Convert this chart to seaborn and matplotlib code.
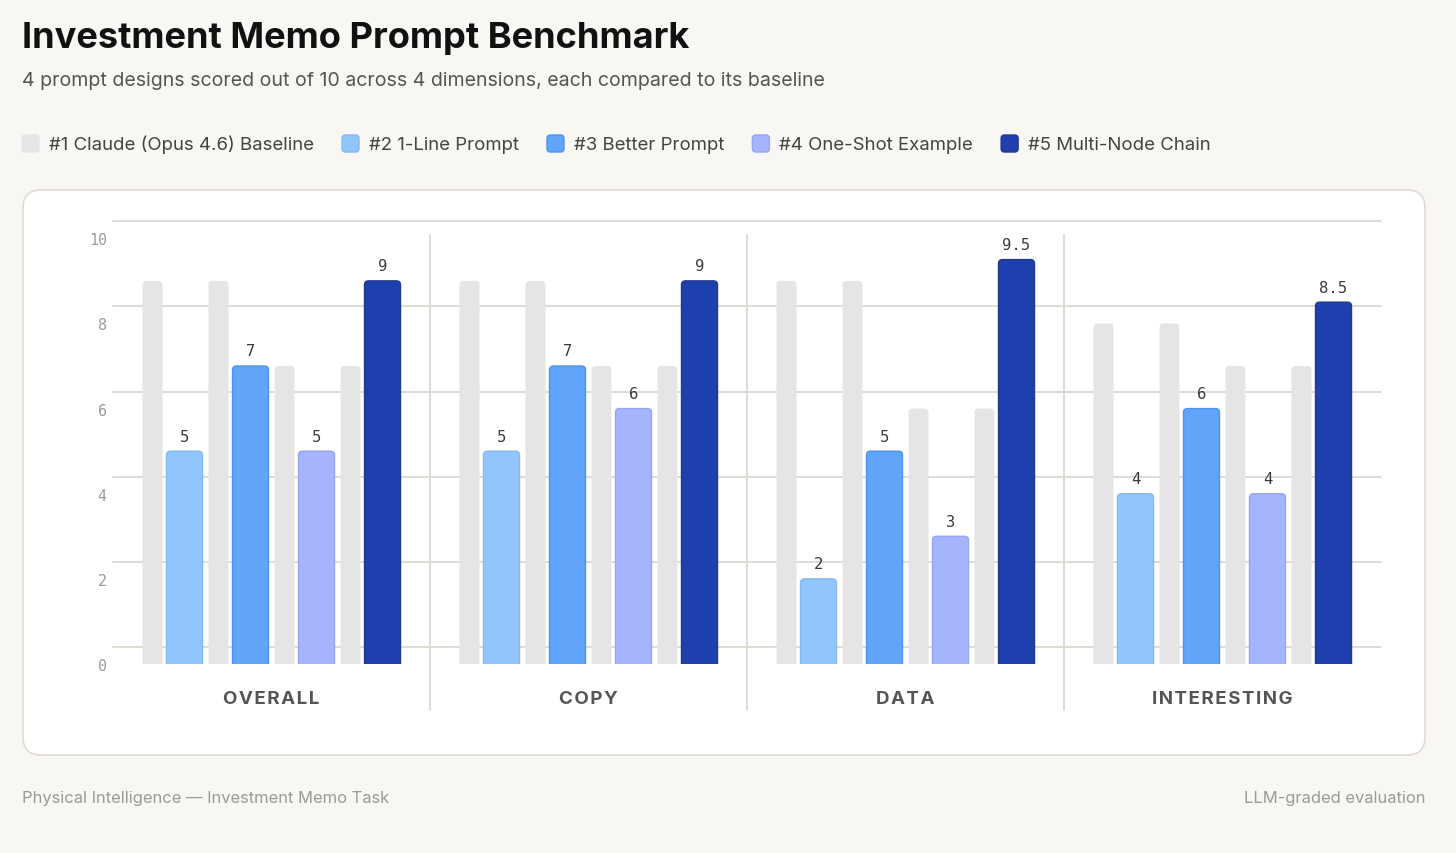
import pandas as pd
import matplotlib.pyplot as plt
import seaborn as sns
from matplotlib.patches import FancyBboxPatch
from matplotlib.transforms import ScaledTranslation

# --- data ---
dimensions = ["OVERALL", "COPY", "DATA", "INTERESTING"]
baseline_name = "#1 Claude (Opus 4.6) Baseline"
designs = ["#2 1-Line Prompt", "#3 Better Prompt", "#4 One-Shot Example", "#5 Multi-Node Chain"]

one_line_scores = [5, 5, 2, 4]
better_scores = [7, 7, 5, 6]
one_shot_scores = [5, 6, 3, 4]
multi_node_scores = [9, 9, 9.5, 8.5]

# baseline bar shown next to each design
one_line_baseline = [9, 9, 9, 8]
better_baseline = [9, 9, 9, 8]
one_shot_baseline = [7, 7, 6, 7]
multi_node_baseline = [7, 7, 6, 7]

y_ticks = [0, 2, 4, 6, 8, 10]

title = "Investment Memo Prompt Benchmark"
subtitle = "4 prompt designs scored out of 10 across 4 dimensions, each compared to its baseline"
footer_left = "Physical Intelligence \u2014 Investment Memo Task"
footer_right = "LLM-graded evaluation"

# --- styles ---
bg_color = "#F8F7F4"
baseline_color = "#E5E5E5"
design_colors = ["#93C5FD", "#60A5FA", "#A5B4FC", "#1E40AF"]
design_edges = ["#85B9F6", "#4E93F2", "#95A5F6", "#1E3A8A"]
grid_color = "#DDD8D0"

scores = [one_line_scores, better_scores, one_shot_scores, multi_node_scores]
baselines = [one_line_baseline, better_baseline, one_shot_baseline, multi_node_baseline]

rows = []
slots = []
palette = {}
for j, name in enumerate(designs):
    slots += [f"base{j}", name]
    palette[f"base{j}"] = baseline_color
    palette[name] = design_colors[j]
    for i, dim in enumerate(dimensions):
        rows.append({"dimension": dim, "slot": f"base{j}", "score": baselines[j][i]})
        rows.append({"dimension": dim, "slot": name, "score": scores[j][i]})
df = pd.DataFrame(rows)

sns.set_theme(style="white")
plt.rcParams["font.family"] = ["Inter", "DejaVu Sans"]

W, H = 1456, 854
fig = plt.figure(figsize=(W / 100, H / 100), dpi=100, facecolor=bg_color)

# background layer in pixel coordinates
bg = fig.add_axes([0, 0, 1, 1], zorder=0)
bg.set_xlim(0, W)
bg.set_ylim(H, 0)
bg.axis("off")
bg.add_patch(FancyBboxPatch((23, 191), 1402, 565, boxstyle="round,pad=0,rounding_size=18",
                            facecolor="white", edgecolor="#E0DCD5", lw=1.2))

bg.text(22, 48, title, fontsize=26.1, fontweight="bold", color="#111111", va="baseline")
bg.text(22, 86, subtitle, fontsize=14.1, color="#555555", va="baseline")
bg.text(22, 803, footer_left, fontsize=11.9, color="#9A9A9A", va="baseline")
bg.text(1426, 803, footer_right, fontsize=11.9, color="#9A9A9A", va="baseline", ha="right")

# legend
renderer = fig.canvas.get_renderer()
lx = 22
legend_items = [(baseline_name, baseline_color, baseline_color)] + \
    [(designs[j], design_colors[j], design_edges[j]) for j in range(4)]
for name, fc, ec in legend_items:
    bg.add_patch(FancyBboxPatch((lx, 136), 17, 17, boxstyle="round,pad=0,rounding_size=3.5",
                                facecolor=fc, edgecolor=ec, lw=1))
    t = bg.text(lx + 27, 150, name, fontsize=13.4, color="#444444", va="baseline")
    lx = lx + 27 + t.get_window_extent(renderer).width + 28

# main chart
ax_left, ax_right, ax_top, ax_bottom = 113, 1381, 218, 665
ax = fig.add_axes([ax_left / W, (H - ax_bottom) / H, (ax_right - ax_left) / W, (ax_bottom - ax_top) / H], zorder=1)
ax.set_facecolor("none")

sns.barplot(data=df, x="dimension", y="score", hue="slot", hue_order=slots, order=dimensions,
            palette=palette, saturation=1, errorbar=None, legend=False, ax=ax)

ax.set_xlim(-0.5, 3.5)
ax.set_ylim(0, 10.5)
px_x = (ax_right - ax_left) / 4          # pixels per group
px_y = (ax_bottom - ax_top) / 10.5       # pixels per score unit
aspect = px_x / px_y

for k, cont in enumerate(ax.containers):
    j, is_base = k // 2, k % 2 == 0
    for bar in list(cont):
        grp = round(bar.get_x() + bar.get_width() / 2)
        h = bar.get_height()
        bar.remove()
        if is_base:
            left, width = -129 + 66 * j, 20
            fc, ec, lw = baseline_color, "none", 0
        else:
            left, width = -105 + 66 * j, 36
            fc, ec, lw = design_colors[j], design_edges[j], 1
        x0 = grp + left / px_x
        ax.add_patch(FancyBboxPatch((x0, -0.3), width / px_x, h + 0.3,
                                    boxstyle=f"round,pad=0,rounding_size={4 / px_x}",
                                    mutation_aspect=aspect, facecolor=fc, edgecolor=ec,
                                    lw=lw, zorder=2))
        if not is_base:
            ax.annotate(f"{h:g}", (x0 + width / px_x / 2, h), xytext=(0, 15),
                        textcoords="offset pixels", ha="center", va="center",
                        fontsize=11.2, color="#3A3A3A", family="DejaVu Sans Mono", zorder=3)

# gridlines (drawn slightly above the tick values, as in the reference)
grid_trans = ax.get_yaxis_transform() + ScaledTranslation(0, 17 / 100, fig.dpi_scale_trans)
for t in y_ticks:
    ax.plot([0, 1], [t, t], transform=grid_trans, color=grid_color, lw=1.3, zorder=0, clip_on=False)

# group separators
for b in [0.5, 1.5, 2.5]:
    ax.plot([b, b], [-(711 - ax_bottom) / px_y, (ax_bottom - 236) / px_y], color=grid_color,
            lw=1.3, zorder=0.5, clip_on=False)

# category labels
lab_trans = ax.transData + ScaledTranslation(0, -35 / 100, fig.dpi_scale_trans)
for i, dim in enumerate(dimensions):
    ax.text(i, 0, "\u200a".join(dim), transform=lab_trans, ha="center", va="center",
            fontsize=13.5, fontweight="bold", color="#555555")

ax.set_yticks(y_ticks)
ax.set_yticklabels([str(t) for t in y_ticks], family="DejaVu Sans Mono")
ax.tick_params(axis="y", length=0, pad=4.5, labelsize=10.8, labelcolor="#9A9A9A")
ax.set_xticks([])
ax.set_xlabel("")
ax.set_ylabel("")
for s in ax.spines.values():
    s.set_visible(False)

fig.savefig("out.png", dpi=100, facecolor=bg_color)
